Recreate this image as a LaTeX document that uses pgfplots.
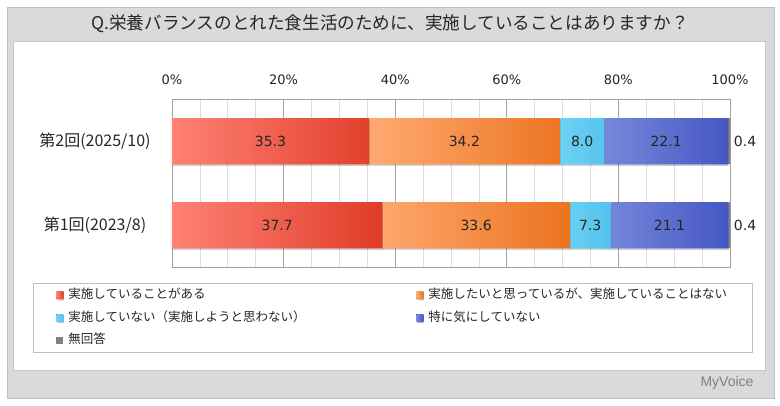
\documentclass[border=0pt]{standalone}
\usepackage{pgfplots}
\pgfplotsset{compat=1.18}
\usetikzlibrary{shadows}
\usepackage{fontspec}
\setmainfont{Noto Sans CJK JP}
\newfontfamily\numfont{DejaVu Sans}
\newfontfamily\logofont{Liberation Sans}
\definecolor{frameg}{HTML}{DADADA}
\definecolor{frameb}{HTML}{BFBFBF}
\definecolor{panelb}{HTML}{C8C8C8}
\definecolor{titlec}{HTML}{262626}
\definecolor{logoc}{HTML}{7F7F7F}
\definecolor{majg}{HTML}{A6A6A6}
\definecolor{ming}{HTML}{DDDDDD}
\definecolor{axisc}{HTML}{A0A0A0}
\definecolor{tickc}{HTML}{262626}
\definecolor{legb}{HTML}{BFBFBF}
\definecolor{labc}{HTML}{262626}
\definecolor{rA}{HTML}{FF8275}
\definecolor{rB}{HTML}{E03C28}
\definecolor{oA}{HTML}{FFAA72}
\definecolor{oB}{HTML}{EC7320}
\definecolor{cA}{HTML}{6ED2F4}
\definecolor{cB}{HTML}{52C2EC}
\definecolor{bA}{HTML}{7688DA}
\definecolor{bB}{HTML}{4557C4}
\definecolor{gA}{HTML}{808080}
\begin{document}
\begin{tikzpicture}[x=1pt,y=1pt]
\useasboundingbox (0,0) rectangle (780,405);
\fill[white] (0,0) rectangle (780,405);
\filldraw[fill=frameg, draw=frameb, line width=0.8pt] (7,7) rectangle (774,398);
\filldraw[fill=white, draw=panelb, line width=0.8pt] (13,35) rectangle (765,364);
\node[font=\fontsize{17.6}{17.6}\selectfont, text=titlec] at (390,381) {Q.栄養バランスのとれた食生活のために、実施していることはありますか？};
\node[font=\logofont\fontsize{14}{14}\selectfont, text=logoc] at (727,22) {MyVoice};
\begin{axis}[
  at={(172pt,138pt)}, anchor=south west, scale only axis,
  width=558pt, height=168pt,
  xbar stacked, bar width=46pt,
  xmin=0, xmax=100, ymin=0.5, ymax=2.5,
  ytick={1,2}, yticklabels={第1回(2023/8),第2回(2025/10)},
  xtick={0,20,...,100},
  minor x tick num=3,
  xmajorgrids, xminorgrids,
  major grid style={draw=majg, line width=0.8pt},
  minor grid style={draw=ming, line width=0.6pt},
  axis line style={draw=axisc, line width=0.8pt},
  major tick length=0pt, minor tick length=0pt,
  xticklabel pos=upper,
  /pgf/number format/assume math mode=true,
  xticklabel={\pgfmathprintnumber{\tick}\%},
  xticklabel style={font=\numfont\fontsize{13}{13}\selectfont, text=tickc, anchor=center, yshift=19pt},
  yticklabel style={font=\fontsize{16}{16}\selectfont, text=tickc, anchor=center, xshift=-77pt},
  legend columns=2,
  legend cell align=left,
  legend image code/.code={\fill[#1] (0pt,-3.5pt) rectangle (7pt,3.5pt);},
  legend style={at={(-0.249,-0.0952)}, anchor=north west, draw=legb, line width=0.8pt,
    inner xsep=23pt, inner ysep=6pt, column sep=3pt, row sep=10.5pt,
    font=\fontsize{12.5}{12.5}\selectfont, text=titlec,
    nodes={inner xsep=2pt, inner ysep=0pt, text height=9.5pt, text depth=2.5pt}},
  shd/.style={drop shadow={shadow xshift=0.6pt, shadow yshift=-1.6pt, opacity=0.22, fill=black}},
]
\addplot[draw=none, left color=rA, right color=rB, shd] coordinates {(37.7,1) (35.3,2)};
\addlegendentry[text width=343pt]{実施していることがある}
\addplot[draw=none, left color=oA, right color=oB, shd] coordinates {(33.6,1) (34.2,2)};
\addlegendentry{実施したいと思っているが、実施していることはない}
\addplot[draw=none, left color=cA, right color=cB, shd] coordinates {(7.3,1) (8.0,2)};
\addlegendentry[text width=343pt]{実施していない（実施しようと思わない）}
\addplot[draw=none, left color=bA, right color=bB, shd] coordinates {(21.1,1) (22.1,2)};
\addlegendentry{特に気にしていない}
\addplot[draw=none, fill=gA] coordinates {(0.4,1) (0.4,2)};
\addlegendentry[text width=343pt]{無回答}
\end{axis}
\begin{axis}[
  at={(172pt,138pt)}, anchor=south west, scale only axis,
  width=558pt, height=168pt,
  xmin=0, xmax=100, ymin=0.5, ymax=2.5, hide axis, clip=false]
\addplot[only marks, mark=none, point meta=explicit symbolic, nodes near coords,
  nodes near coords align={center},
  every node near coord/.append style={font=\numfont\fontsize{14}{14}\selectfont, text=labc, anchor=center}]
  coordinates {(17.65,2)[35.3] (52.4,2)[34.2] (73.5,2)[8.0] (88.55,2)[22.1] (102.7,2)[0.4]
    (18.85,1)[37.7] (54.5,1)[33.6] (74.95,1)[7.3] (89.15,1)[21.1] (102.7,1)[0.4]};
\end{axis}
\end{tikzpicture}
\end{document}
